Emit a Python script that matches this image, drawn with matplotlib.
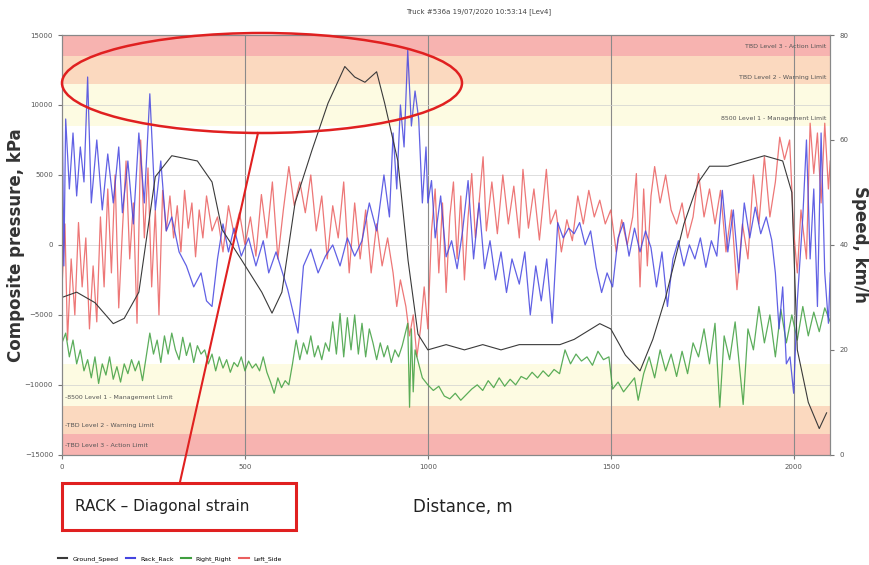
import matplotlib
matplotlib.use('Agg')
import matplotlib.pyplot as plt
from matplotlib.patches import Ellipse, Rectangle
from matplotlib.lines import Line2D

title = 'Truck #536a 19/07/2020 10:53:14 [Lev4]'
series_names = ['Ground_Speed', 'Rack_Rack', 'Right_Right', 'Left_Side']

# ground speed, km/h
speed_dist = [0, 40, 90, 140, 170, 210, 255, 300, 370, 410, 437, 492, 546, 574, 601, 637, 683,
              727, 773, 800, 828, 860, 882, 918, 946, 973, 1000, 1050, 1100, 1150, 1200, 1250,
              1300, 1361, 1400, 1470, 1500, 1540, 1580, 1615, 1650, 1700, 1740, 1770, 1820,
              1870, 1920, 1970, 1995, 2010, 2040, 2070, 2090]
speed_val = [30, 31, 29, 25, 26, 31, 53, 57, 56, 52, 43, 37, 31, 27, 31, 48, 58,
             67, 74, 72, 71, 73, 67, 56, 37, 23, 20, 21, 20, 21, 20, 21,
             21, 21, 22, 25, 24, 19, 16, 22, 30, 44, 52, 55, 55,
             56, 57, 56, 50, 20, 10, 5, 8]

# rack (blue), kPa
rack_dist = [0, 5, 10, 20, 30, 40, 50, 60, 70, 80, 95, 110, 125, 140, 155, 165, 180, 195, 210,
             225, 240, 255, 270, 285, 300, 320, 340, 360, 380, 395, 410, 425, 440, 455, 470,
             490, 510, 530, 550, 565, 585, 617, 645, 660, 680, 700, 720, 740, 760, 780, 800,
             820, 840, 860, 880, 895, 905, 915, 925, 935, 945, 955, 965, 975, 985, 995,
             1000, 1010, 1020, 1035, 1050, 1065, 1080, 1095, 1110, 1125, 1140, 1155, 1170,
             1185, 1200, 1215, 1230, 1250, 1265, 1280, 1295, 1310, 1325, 1340, 1355, 1370,
             1385, 1400, 1415, 1430, 1445, 1460, 1475, 1490, 1505, 1520, 1535, 1550, 1565,
             1580, 1595, 1610, 1625, 1640, 1655, 1670, 1685, 1700, 1715, 1730, 1745, 1760,
             1775, 1790, 1805, 1820, 1835, 1850, 1865, 1880, 1895, 1910, 1925, 1940, 1950,
             1960, 1970, 1980, 1990, 2000, 2010, 2025, 2035, 2045, 2055, 2065, 2075, 2085,
             2095, 2100]
rack_val = [11000, -1500, 9000, 4000, 8000, 3500, 7000, 4500, 12000, 3000, 7500, 2500, 6500,
            3000, 7000, 2300, 6000, 1500, 8000, 3000, 10800, 2500, 6000, 1000, 2000, -500,
            -1500, -3000, -2000, -4000, -4400, -1000, 1500, -500, 1200, -800, 500, -1500, 300,
            -2000, -500, -3200, -6300, -1500, -300, -2000, -800, 0, -1500, 500, -800, 300,
            3000, 1000, 5000, 2000, 8000, 4000, 10000, 7000, 13900, 8500, 11000, 9000, 3000,
            7000, 3000, 4600, 500, 3500, -850, 300, -1700, 1000, 4600, -1000, 3000, -1700,
            300, -2500, -500, -3400, -1000, -2800, -500, -5000, -1500, -4000, -1000, -5600,
            1600, 500, 1200, 800, 1600, 0, 1000, -1600, -3400, -2000, -3000, 500, 1600, -800,
            1200, -500, 1000, -200, -3000, -500, -4400, -1000, 300, -1500, 0, -1000, 500,
            -1600, 300, -800, 3900, -500, 2500, -2000, 3000, 500, 2700, 800, 2000, 350,
            -2000, -6000, -3000, -8500, -8000, -10600, -4000, 2000, 7500, -1000, 4000, -4400,
            8000, -2000, -5600, -2000]

# right (green), kPa
right_dist = [0, 10, 20, 30, 40, 50, 60, 70, 80, 90, 100, 110, 120, 130, 140, 150, 160, 170,
              180, 190, 200, 210, 220, 230, 240, 250, 260, 270, 280, 290, 300, 310, 320, 330,
              340, 350, 360, 370, 380, 390, 400, 410, 420, 430, 440, 450, 460, 470, 480, 490,
              500, 510, 520, 530, 540, 550, 560, 570, 580, 590, 600, 610, 620, 630, 640, 650,
              660, 670, 680, 690, 700, 710, 720, 730, 740, 750, 760, 770, 780, 790, 800, 810,
              820, 830, 840, 850, 860, 870, 880, 890, 900, 910, 920, 930, 945, 950, 955, 960,
              965, 975, 985, 1000, 1015, 1030, 1045, 1060, 1075, 1090, 1105, 1120, 1135, 1150,
              1165, 1180, 1195, 1210, 1225, 1240, 1255, 1270, 1285, 1300, 1315, 1330, 1345,
              1360, 1375, 1390, 1405, 1420, 1435, 1450, 1465, 1480, 1495, 1505, 1520, 1535,
              1550, 1565, 1575, 1590, 1605, 1620, 1635, 1650, 1665, 1680, 1695, 1710, 1725,
              1740, 1755, 1770, 1785, 1798, 1810, 1825, 1840, 1862, 1875, 1890, 1905, 1920,
              1935, 1950, 1965, 1980, 1995, 2010, 2025, 2040, 2055, 2070, 2085, 2100]
right_val = [-7000, -6300, -8000, -6800, -8500, -7500, -9000, -8200, -9500, -8000, -9900,
             -8500, -9300, -8000, -9600, -8700, -9800, -8500, -9200, -8200, -9000, -8300,
             -9700, -8000, -6300, -7800, -6800, -8400, -6500, -7800, -6300, -7500, -8200,
             -6600, -7900, -7000, -8400, -7200, -7800, -7500, -8500, -7800, -9000, -8000,
             -8800, -8200, -9100, -8400, -8700, -8000, -9000, -8300, -8800, -8500, -9000,
             -8000, -9100, -9800, -10600, -9500, -10200, -9700, -10000, -8500, -6800, -8200,
             -7000, -7800, -6500, -8000, -7200, -8200, -7000, -7600, -5500, -7800, -4900,
             -8000, -5200, -7500, -5000, -7800, -5600, -8000, -6000, -7000, -8200, -7000,
             -8000, -7200, -8400, -7500, -8000, -7200, -5600, -11600, -6000, -10500, -7500,
             -8500, -9500, -10000, -10400, -10100, -10800, -11000, -10600, -11100, -10700,
             -10300, -10000, -10400, -9700, -10200, -9500, -10100, -9600, -10000, -9400,
             -9600, -9100, -9500, -9000, -9400, -8900, -9200, -7500, -8500, -7800, -8300,
             -8000, -8600, -7600, -8200, -8000, -10300, -9800, -10500, -10000, -9500, -11100,
             -9200, -8000, -9500, -7500, -9000, -7800, -9400, -7600, -9200, -7000, -8000,
             -6000, -8500, -5600, -11600, -6500, -8200, -5500, -11400, -6000, -7500, -4400,
             -7000, -5000, -8000, -4600, -7000, -5000, -6800, -4400, -6500, -4800, -6200,
             -4500, -5500]

# left side (red), kPa
left_dist = [0, 8, 15, 25, 35, 45, 55, 65, 75, 85, 95, 105, 115, 125, 135, 145, 155, 165, 175,
             185, 195, 205, 215, 225, 235, 245, 255, 265, 275, 285, 295, 305, 315, 325, 335,
             345, 355, 365, 375, 385, 395, 410, 425, 440, 455, 470, 485, 500, 515, 530, 545,
             560, 575, 590, 605, 620, 635, 650, 665, 680, 695, 710, 725, 740, 755, 770, 785,
             800, 815, 830, 845, 860, 875, 890, 905, 915, 925, 940, 950, 960, 970, 980, 990,
             1000, 1010, 1020, 1030, 1040, 1050, 1060, 1070, 1080, 1090, 1100, 1110, 1120,
             1130, 1140, 1151, 1160, 1175, 1190, 1205, 1220, 1235, 1250, 1260, 1275, 1290,
             1305, 1315, 1324, 1335, 1350, 1365, 1380, 1395, 1410, 1425, 1440, 1455, 1470,
             1485, 1500, 1515, 1530, 1545, 1560, 1570, 1580, 1590, 1600, 1610, 1620, 1635,
             1650, 1665, 1680, 1695, 1710, 1725, 1740, 1755, 1770, 1785, 1800, 1815, 1830,
             1845, 1860, 1875, 1890, 1905, 1920, 1935, 1950, 1962, 1975, 1989, 2000, 2010,
             2020, 2035, 2045, 2055, 2065, 2075, 2085, 2095, 2100]
left_val = [-3000, 1500, -6800, -1000, -5000, 1600, -3000, 500, -6000, -1500, -5500, 2000,
            -3000, 4000, -2000, 5000, -4500, 1000, 6000, -1000, 3000, -5600, 7500, 500, 5500,
            -3000, 2500, -5000, 3900, 1000, 3500, 500, 2800, -500, 3900, 1200, 3000, -850,
            2500, 500, 3500, 1000, 2000, -500, 2800, 800, 2300, 0, 2000, -800, 3600, 500,
            4500, -1000, 2500, 5600, 2800, 4500, 2300, 5000, 1000, 3500, -1000, 2800, 500,
            4500, -2000, 3000, -1000, 2500, -2000, 1500, -1500, 500, -2000, -4400, -2500,
            -4400, -6500, -5000, -8000, -6000, -3000, -6000, 1000, 4000, -2000, 3000, -3400,
            2000, 4500, -1000, 3500, -2500, 2000, 5100, 500, 3000, 6300, 1000, 4500, 800,
            5000, 1500, 4200, 500, 5400, 1200, 4000, 350, 3000, 5400, 1500, 2500, -500, 1800,
            300, 3500, 1500, 3900, 2000, 3200, 1500, 2500, -500, 1800, 0, 2000, 5100, -3000,
            4000, -1500, 3500, 5600, 3000, 5000, 2500, 1500, 3000, 500, 2000, 5100, 2000,
            4000, 1500, 3900, -500, 2500, -3200, 1500, -1000, 5000, 1500, 6300, 2000, 4500,
            7700, 6100, 7500, 1000, -2000, 2500, -1000, 8700, 5100, 8000, 3000, 8700, 4000,
            6000]

# limit bands, kPa
band_edges = [8500, 11500, 13500, 15000]
band_colors = ['#fdfbe2', '#fbd9bf', '#f7b3b0']
upper_labels = ['8500 Level 1 - Management Limit', 'TBD Level 2 - Warning Limit',
                'TBD Level 3 - Action Limit']
lower_labels = ['-8500 Level 1 - Management Limit', '-TBD Level 2 - Warning Limit',
                '-TBD Level 3 - Action Limit']

fig = plt.figure(figsize=(8.7, 5.65), dpi=100)
ax = fig.add_axes([0.0713, 0.195, 0.883, 0.743])
ax2 = ax.twinx()

for i in range(3):
    lo, hi = band_edges[i], band_edges[i + 1]
    ax.axhspan(lo, hi, color=band_colors[i], lw=0, zorder=0)
    ax.axhspan(-hi, -lo, color=band_colors[i], lw=0, zorder=0)

for x in [500, 1000, 1500, 2000]:
    ax.axvline(x, color='#8a8a8a', lw=0.8, zorder=1)
for y in [-10000, -5000, 0, 5000, 10000]:
    ax.axhline(y, color='#d0d0d0', lw=0.5, zorder=1)

ax.plot(left_dist, left_val, color='#ea5f5f', lw=0.9, alpha=0.85, zorder=3)
ax.plot(right_dist, right_val, color='#3f9f3f', lw=0.9, alpha=0.85, zorder=3)
ax.plot(rack_dist, rack_val, color='#4545e0', lw=0.9, alpha=0.85, zorder=4)
ax2.plot(speed_dist, speed_val, color='#3a3a3a', lw=0.8)

ax.set_xlim(0, 2100)
ax.set_ylim(-15000, 15000)
ax2.set_ylim(0, 80)
ax.set_xticks([0, 500, 1000, 1500, 2000])
ax.set_yticks([-15000, -10000, -5000, 0, 5000, 10000, 15000])
ax2.set_yticks([0, 20, 40, 60, 80])
ax.tick_params(labelsize=5, length=3, color='#777777', labelcolor='#555555')
ax2.tick_params(labelsize=5, length=3, color='#777777', labelcolor='#555555')
for a in (ax, ax2):
    for s in a.spines.values():
        s.set_color('#888888')

# band texts
ys_up = [9000, 12000, 14200]
for lab, y in zip(upper_labels, ys_up):
    ax.text(2090, y, lab, fontsize=4.5, ha='right', va='center', color='#555555', zorder=5)
ys_lo = [-10900, -12900, -14300]
for lab, y in zip(lower_labels, ys_lo):
    ax.text(8, y, lab, fontsize=4.5, ha='left', va='center', color='#555555', zorder=5)

ax.set_ylabel('Composite pressure, kPa', fontsize=12, fontweight='bold', color='#333333', labelpad=0)
ax2.set_ylabel('Speed, km/h', fontsize=12, fontweight='bold', color='#333333', labelpad=2,
               rotation=270, va='bottom')
fig.text(0.55, 0.985, title, fontsize=5, ha='center', va='top', color='#444444')

fig.text(463 / 870, 1 - 507 / 565, 'Distance, m', fontsize=12, ha='center', va='center', color='#222222')

# annotation: ellipse, pointer line and text box
fig.add_artist(Ellipse((262 / 870, 1 - 83 / 565), 400 / 870, 100 / 565, transform=fig.transFigure,
                       fill=False, ec='#e02020', lw=1.8))
fig.add_artist(Line2D([258 / 870, 180 / 870], [1 - 133 / 565, 1 - 482 / 565], transform=fig.transFigure,
                      color='#e02020', lw=1.5))
fig.add_artist(Rectangle((62 / 870, 1 - 530 / 565), 234 / 870, 47 / 565, transform=fig.transFigure,
                         fill=False, ec='#e02020', lw=2.2))
fig.text(75 / 870, 1 - 507 / 565, 'RACK \u2013 Diagonal strain', fontsize=11,
         ha='left', va='center', color='#222222')

handles = [Line2D([], [], color=c, lw=1.5) for c in ['#3a3a3a', '#4545e0', '#3f9f3f', '#ea5f5f']]
fig.legend(handles, series_names, loc='lower left', bbox_to_anchor=(0.06, -0.005), ncol=4,
           fontsize=4.5, frameon=False, handlelength=1.5, columnspacing=1.2)

fig.savefig('out.png', dpi=100)
